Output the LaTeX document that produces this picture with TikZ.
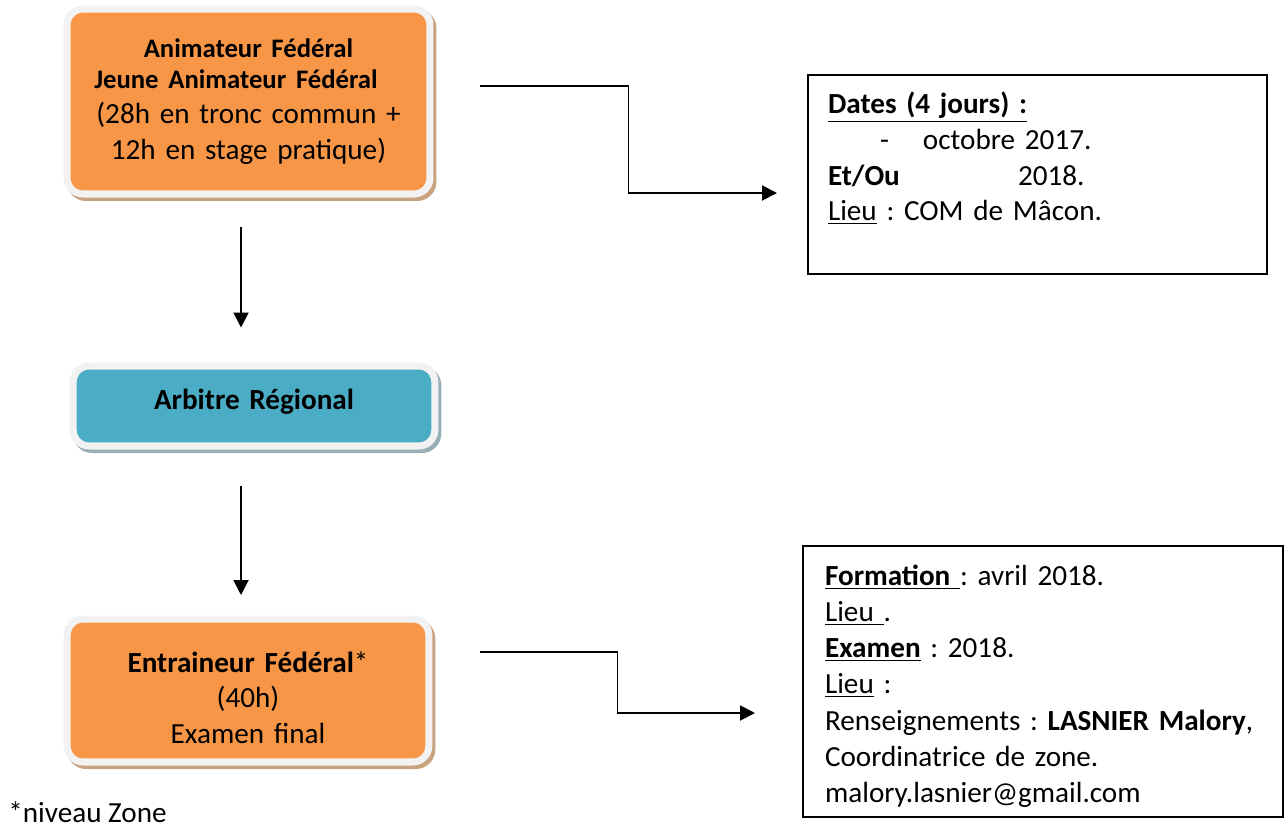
\documentclass[tikz,border=0pt]{standalone}
\usepackage{fontspec}
\setmainfont{Carlito}
\usepackage{xcolor}
\usetikzlibrary{arrows.meta,calc,shadows}
\frenchspacing

\definecolor{formorange}{HTML}{F79646}
\definecolor{formblue}{HTML}{4BACC6}
\definecolor{rimgray}{HTML}{F2F2F2}
\definecolor{tanshadow}{HTML}{C9A27F}
\definecolor{blueshadow}{HTML}{98AFB8}

\begin{document}
\begin{tikzpicture}[x=0.02cm, y=-0.02cm, >={Triangle[length=0.3cm,width=0.3cm]},
    level/.style={rounded corners=0.32cm, draw=rimgray, line width=4pt, align=center, text width=7cm,
        font=\fontsize{16.6}{20.3}\selectfont},
    orangelevel/.style={level, fill=formorange, drop shadow={shadow xshift=0.06cm, shadow yshift=-0.07cm,
        fill=tanshadow, draw=tanshadow, line width=4pt, opacity=1}},
    bluelevel/.style={level, fill=formblue, drop shadow={shadow xshift=0.06cm, shadow yshift=-0.07cm,
        fill=blueshadow, draw=blueshadow, line width=4pt, opacity=1}},
    infobox/.style={draw, line width=1pt, align=left, font=\fontsize{16.6}{20.3}\selectfont},
    link/.style={->, line width=1.1pt}]
    \useasboundingbox (0,0) rectangle (1286,829);

    \node[orangelevel, minimum width=7.26cm, minimum height=3.7cm] (animateur) at (248.5,101.5)
        {{\fontsize{15.2}{17.5}\selectfont\bfseries Animateur Fédéral\\ Jeune Animateur Fédéral\hspace*{0.5cm}\par}
         (28h en tronc commun +\\ 12h en stage pratique)};
    \node[bluelevel, minimum width=7.02cm, minimum height=1.6cm] (arbitre) at (254,406)
        {\bfseries Arbitre Régional\rule[-0.26cm]{0pt}{0pt}};
    \node[orangelevel, minimum width=7.22cm, minimum height=2.86cm] (entraineur) at (248,690.5)
        {\rule{0pt}{0.7cm}\textbf{Entraineur Fédéral}*\\ (40h)\\ Examen final};

    \node[infobox, text width=8.38cm, inner xsep=0.4cm, minimum height=3.98cm] (dates) at (1037.5,174.5)
        {\underline{\textbf{Dates (4 jours) :}}\\
         \hspace*{1.04cm}\makebox[0.86cm][l]{-}octobre 2017.\\
         \makebox[3.8cm][l]{\textbf{Et/Ou}}2018.\\
         \underline{Lieu} : COM de Mâcon.\\
         \mbox{}};
    \node[infobox, text width=8.72cm, inner xsep=0.44cm, minimum height=5.42cm,
        font=\fontsize{16.6}{20.5}\selectfont] (formation) at (1043,681.5)
        {\rule{0pt}{0.6cm}\underline{\textbf{Formation}\ }: avril 2018.\\
         \underline{Lieu\ }.\\
         \underline{\textbf{Examen}} : 2018.\\
         \underline{Lieu} :\\
         Renseignements : \textbf{LASNIER Malory},\\
         Coordinatrice de zone.\\
         malory.lasnier@gmail.com};

    \node[anchor=west, inner sep=0pt, font=\fontsize{16.6}{20.3}\selectfont] (niveau) at (8,812) {*niveau Zone};

    % liaisons
    \coordinate (animout) at (480,86);
    \coordinate (datesin) at (777,193);
    \coordinate (entrout) at (480,652);
    \coordinate (formin) at (755,713);

    \draw[link, shorten >=0.7cm] ([xshift=-0.15cm,yshift=-0.59cm]animateur.south) -- ([xshift=-0.15cm]animateur.south |- arbitre.north);
    \draw[link, shorten >=0.41cm] ([xshift=-0.26cm,yshift=-0.73cm]arbitre.south) -- ([xshift=-0.26cm]arbitre.south |- entraineur.north);
    \draw[link] (animout) -| ($(animout)!.5!(datesin)$) |- (datesin);
    \draw[link] (entrout) -| ($(entrout)!.5!(formin)$) |- (formin);
\end{tikzpicture}
\end{document}
